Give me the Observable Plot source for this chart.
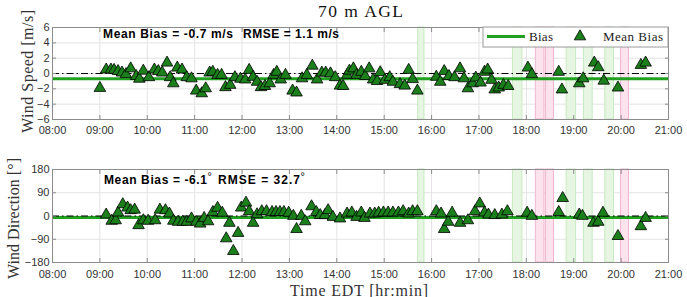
<!DOCTYPE html>
<html><head><meta charset="utf-8">
<script src="https://cdn.jsdelivr.net/npm/d3@7"></script>
<script src="https://cdn.jsdelivr.net/npm/@observablehq/plot@0.6"></script>
<style>
body{margin:0;background:#fff;}
#wrap{position:relative;width:687px;height:297px;overflow:hidden;background:#fff;}
#wrap > svg{position:absolute;left:0;top:0;}
</style>
</head><body><div id="wrap"></div>
<script>
// ---- data ----
const hourLabels = ["08:00","09:00","10:00","11:00","12:00","13:00","14:00","15:00","16:00","17:00","18:00","19:00","20:00","21:00"];
const speedTicks = [-6,-4,-2,0,2,4,6];
const dirTicks = [-180,-90,0,90,180];

const speedTimes = ["09:00","09:08","09:14","09:18","09:23","09:28","09:33","09:39","09:46","09:50","09:55","10:02","10:09","10:14","10:19","10:25","10:29","10:33","10:38","10:44","10:50","10:56","11:02","11:09","11:14","11:19","11:23","11:29","11:34","11:39","11:45","11:51","11:58","12:04","12:09","12:14","12:19","12:24","12:29","12:35","12:40","12:44","12:49","12:55","13:04","13:09","13:16","13:22","13:29","13:35","13:41","13:46","13:52","13:58","14:04","14:08","14:13","14:16","14:21","14:25","14:31","14:36","14:41","14:46","14:51","14:55","15:01","15:07","15:11","15:20","15:26","15:31","15:36","15:42","16:06","16:11","16:16","16:22","16:29","16:36","16:41","16:46","16:52","16:56","17:02","17:07","17:11","17:16","17:20","17:25","17:31","17:37","18:02","18:07","18:41","18:45","19:07","19:12","19:26","19:31","19:38","19:56","20:25","20:31"];
const speedBias = [-1.9,0.5,0.5,0.45,0.3,0.1,-0.1,0.65,-0.35,-0.7,0.35,-0.5,0.5,0.3,0.1,1.4,-0.5,-1.3,0.75,0.5,-0.5,-0.65,-2.25,-2.6,-1.95,0.1,0.2,-0.2,-0.2,-1.8,-1.5,-0.5,-0.7,-0.8,0.45,-0.45,-1.1,-1.8,-1.65,-1.3,-0.2,0.2,-0.8,-0.2,-2.25,-2.5,-0.65,-0.2,1.0,-0.8,0.1,0.1,0.0,-0.5,-1.6,-1.65,-0.2,0.35,0.65,-0.2,0.2,-0.35,0.65,-0.8,-1.0,0.15,-0.85,-0.5,-1.1,-1.4,-1.6,0.45,-0.75,-2.25,-0.45,-1.1,0.3,-0.35,-0.5,0.65,-0.65,-1.95,-1.3,-0.55,-1.2,0.2,0.5,-0.85,-2.1,-1.85,-1.5,-1.65,0.75,-0.1,0.2,-2.1,-1.3,-0.65,1.4,0.8,-0.95,-1.85,1.1,1.4];

const dirTimes = ["09:08","09:15","09:20","09:23","09:29","09:35","09:39","09:44","09:49","09:55","10:01","10:10","10:16","10:23","10:28","10:33","10:39","10:45","10:50","10:56","11:02","11:07","11:12","11:17","11:23","11:29","11:35","11:40","11:44","11:49","11:55","11:59","12:05","12:09","12:14","12:19","12:25","12:31","12:38","12:43","12:48","12:53","12:59","13:05","13:09","13:15","13:20","13:28","13:34","13:39","13:45","13:49","13:55","14:04","14:13","14:19","14:25","14:31","14:35","14:42","14:48","14:53","14:59","15:05","15:11","15:18","15:24","15:31","15:36","15:42","16:06","16:12","16:16","16:21","16:26","16:36","16:46","16:55","17:01","17:07","17:12","17:20","17:29","17:36","18:01","18:07","18:41","18:46","19:07","19:11","19:25","19:31","19:37","19:56","20:25","20:31"];
const dirBias = [5,-19,-17,13,45,32,22,24,-36,-17,-19,-17,24,22,9,-19,-23,-23,-23,-10,-23,-30,-8,-21,15,31,12,-87,-27,-136,-66,32,51,18,-27,6,18,18,15,15,15,15,12,0,-51,0,-21,37,15,3,3,22,-4,-10,9,13,-4,13,-8,9,9,12,13,13,13,13,18,9,18,18,18,9,-51,-23,12,-27,-17,18,48,13,5,3,5,18,12,0,15,69,5,0,-27,-23,12,-78,-40,-8];

const speedMean = -0.7, speedRmse = 1.1;
const dirMean = -6.1, dirRmse = 32.7;

const greenBands = [["15:43","15:51"],["17:43","17:55"],["18:51","19:03"],["19:13","19:24"],["19:40","19:51"]];
const pinkBands = [["18:12","18:23"],["18:25","18:35"],["20:00","20:10"]];

// ---- helpers ----
const toH = s => { const [h, m] = s.split(":").map(Number); return h + m / 60; };
const hourVals = hourLabels.map(toH);
const fmt = v => { const i = hourVals.indexOf(v); return i >= 0 ? hourLabels[i] : ""; };
const axC = "#8c8c8c", gridC = "#e3e3e3";
const lineGreen = "#22a022", triFill = "#1b7f1b";

function panel(o) {
  const pts = o.times.map((t, i) => ({x: toH(t), y: o.values[i]}));
  const gb = greenBands.map(([a, b]) => ({x1: toH(a), x2: toH(b)}));
  const pb = pinkBands.map(([a, b]) => ({x1: toH(a), x2: toH(b)}));
  return Plot.plot({
    width: 687, height: 297,
    marginLeft: 52, marginRight: 19, marginTop: o.top, marginBottom: 297 - o.bottom,
    style: {background: "transparent", fontFamily: "'Liberation Sans', Arial, sans-serif", fontSize: "11px", color: "#333", overflow: "visible"},
    x: {domain: [8, 21]},
    y: {domain: o.domain},
    marks: [
      Plot.gridX(hourVals, {stroke: gridC, strokeOpacity: 1}),
      Plot.gridY(o.ticks, {stroke: gridC, strokeOpacity: 1}),
      Plot.rect(gb, {x1: "x1", x2: "x2", fill: "#e6f6e3", stroke: "#c6eac1", strokeWidth: 1}),
      Plot.rect(pb, {x1: "x1", x2: "x2", fill: "#fde3ee", stroke: "#f0b6cf", strokeWidth: 1}),
      Plot.ruleY([o.mean], {stroke: lineGreen, strokeWidth: 3}),
      Plot.ruleY([0], {stroke: "#000", strokeWidth: 1, strokeDasharray: "7,3,1.5,3"}),
      Plot.dot(pts, {x: "x", y: "y", symbol: "triangle", r: 4.3, fill: triFill, stroke: "#000", strokeWidth: 0.8}),
      Plot.frame({stroke: axC}),
      Plot.axisX(hourVals, {anchor: "bottom", tickSize: 4, dy: -4, tickFormat: () => "", stroke: axC, label: null}),
      Plot.axisX(hourVals, {anchor: "top", tickSize: 4, dy: 4, tickFormat: () => "", stroke: axC, label: null}),
      Plot.axisX(hourVals, {anchor: "bottom", tickSize: 0, tickPadding: o.xPad, tickFormat: fmt, label: null}),
      Plot.axisY(o.ticks, {anchor: "left", tickSize: 4, dx: 4, tickFormat: () => "", stroke: axC, label: null}),
      Plot.axisY(o.ticks, {anchor: "right", tickSize: 4, dx: -4, tickFormat: () => "", stroke: axC, label: null}),
      Plot.axisY(o.ticks, {anchor: "left", tickSize: 0, tickPadding: 3, label: null})
    ]
  });
}

const wrap = document.getElementById("wrap");
wrap.appendChild(panel({times: speedTimes, values: speedBias, mean: speedMean, domain: [-6, 6], ticks: speedTicks, top: 27, bottom: 119, xPad: 7}));
wrap.appendChild(panel({times: dirTimes, values: dirBias, mean: dirMean, domain: [-180, 180], ticks: dirTicks, top: 169, bottom: 262, xPad: 8}));

// ---- overlay texts & legend ----
const ov = d3.select(wrap).append("svg").attr("width", 687).attr("height", 297);
const serif = "'Liberation Serif', 'Times New Roman', serif";
const sans = "'Liberation Sans', Arial, sans-serif";

ov.append("text").attr("x", 318).attr("y", 17).attr("font-family", serif).attr("font-size", 17.5)
  .attr("textLength", 85).attr("lengthAdjust", "spacing").attr("fill", "#111").text("70 m AGL");

ov.append("text").attr("transform", "translate(33,133) rotate(-90)").attr("font-family", serif).attr("font-size", 16)
  .attr("textLength", 123).attr("lengthAdjust", "spacing").attr("fill", "#333").text("Wind Speed [m/s]");
ov.append("text").attr("transform", "translate(18.5,279) rotate(-90)").attr("font-family", serif).attr("font-size", 16)
  .attr("textLength", 121).attr("lengthAdjust", "spacing").attr("fill", "#333").text("Wind Direction [°]");
ov.append("text").attr("x", 290).attr("y", 295.5).attr("font-family", serif).attr("font-size", 16)
  .attr("textLength", 138).attr("lengthAdjust", "spacing").attr("fill", "#333").text("Time EDT [hr:min]");

function bold(x, y, len, s) {
  ov.append("text").attr("x", x).attr("y", y).attr("font-family", sans).attr("font-weight", "bold")
    .attr("font-size", 12).attr("textLength", len).attr("lengthAdjust", "spacing").attr("fill", "#000").text(s);
}
bold(103, 37.5, 130, `Mean Bias = ${speedMean} m/s`);
bold(243, 37.5, 96, `RMSE = ${speedRmse} m/s`);
bold(104, 184, 103, `Mean Bias = ${dirMean}`);
bold(218, 184, 82, `RMSE = ${dirRmse}`);
[[207.5, 180], [300.5, 180]].forEach(([x, y]) =>
  ov.append("text").attr("x", x).attr("y", y).attr("font-family", sans).attr("font-size", 11).attr("fill", "#000").text("°"));

// legend
const lg = ov.append("g");
lg.append("rect").attr("x", 483).attr("y", 27).attr("width", 185).attr("height", 20).attr("fill", "#fff").attr("stroke", "#9a9a9a");
lg.append("line").attr("x1", 487).attr("x2", 525).attr("y1", 36.5).attr("y2", 36.5).attr("stroke", lineGreen).attr("stroke-width", 3);
lg.append("text").attr("x", 529).attr("y", 40.5).attr("font-family", serif).attr("font-size", 13)
  .attr("textLength", 24).attr("lengthAdjust", "spacing").attr("fill", "#222").text("Bias");
lg.append("path").attr("transform", "translate(580,36.5)")
  .attr("d", d3.symbol(d3.symbolTriangle, Math.PI * 4.3 * 4.3)())
  .attr("fill", triFill).attr("stroke", "#000").attr("stroke-width", 0.8);
lg.append("text").attr("x", 603).attr("y", 40.5).attr("font-family", serif).attr("font-size", 13)
  .attr("textLength", 60).attr("lengthAdjust", "spacing").attr("fill", "#222").text("Mean Bias");
</script>
</body></html>
